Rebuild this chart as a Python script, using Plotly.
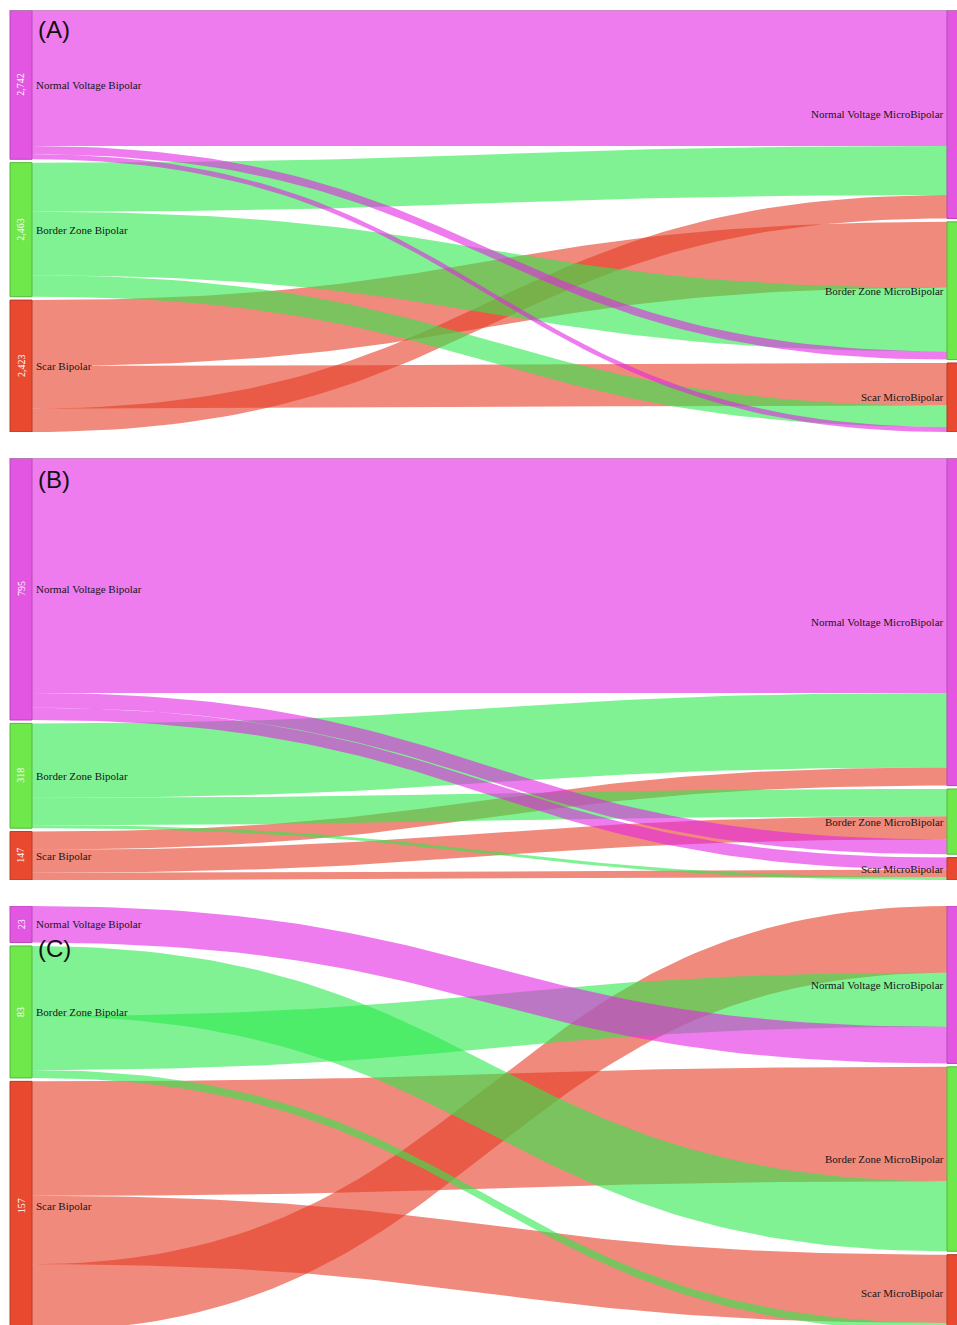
import numpy as np
import plotly.graph_objects as go

# ---- data -----------------------------------------------------------------
SOURCE_NAMES = ["Normal Voltage Bipolar", "Border Zone Bipolar", "Scar Bipolar"]
TARGET_NAMES = ["Normal Voltage MicroBipolar", "Border Zone MicroBipolar", "Scar MicroBipolar"]
PANEL_TAGS = ["(A)", "(B)", "(C)"]

# point counts flowing from each bipolar class (row) to each microbipolar class (column)
FLOWS_A = [[2500, 150, 92],
           [900, 1170, 393],
           [430, 1210, 783]]
FLOWS_B = [[713, 45, 37],
           [226, 83, 9],
           [55, 70, 22]]
FLOWS_C = [[23, 0, 0],
           [34, 44, 5],
           [42, 72, 43]]

# stacking order of ribbons leaving each source node (target indices, top to bottom)
OUT_ORDER_A = [[0, 1, 2], [0, 1, 2], [1, 2, 0]]
OUT_ORDER_B = [[0, 1, 2], [0, 1, 2], [0, 1, 2]]
OUT_ORDER_C = [[0, 1, 2], [1, 0, 2], [1, 2, 0]]
# stacking order of ribbons entering each target node (source indices, top to bottom)
IN_ORDER_A = [[0, 1, 2], [2, 1, 0], [2, 1, 0]]
IN_ORDER_B = [[0, 1, 2], [1, 2, 0], [0, 2, 1]]
IN_ORDER_C = [[2, 1, 0], [2, 1, 0], [2, 1, 0]]

# ---- style ----------------------------------------------------------------
NODE_COLORS = ["#e256e2", "#6ee84a", "#e8492f"]
NODE_EDGES = ["#b848b8", "#58b83c", "#b83a26"]
LINK_COLORS = ["rgba(226,37,228,0.6)", "rgba(43,233,77,0.6)", "rgba(230,60,37,0.6)"]
DRAW_ORDER = [2, 1, 0]          # ribbons painted by source: scar, border zone, normal

W, H = 957, 1325
PX_LEFT, PX_RIGHT = 10, 947     # left edges of the two node columns
SPAN = PX_RIGHT - PX_LEFT
NODE_W = 22 / SPAN              # node thickness in column units
PAD = 0.008                     # gap between stacked nodes, fraction of panel height

# panel placement in pixels: (top, bottom of full panel, visible bottom)
PANELS = [(10, 432, 432), (458, 880, 880), (906, 1331, 1325)]
TAG_Y = [29, 480, 948]

panels = [
    (FLOWS_A, OUT_ORDER_A, IN_ORDER_A),
    (FLOWS_B, OUT_ORDER_B, IN_ORDER_B),
    (FLOWS_C, OUT_ORDER_C, IN_ORDER_C),
]

fig = go.Figure()
annotations = []
shapes = []
layout_axes = {}

t = np.linspace(0, 1, 80)
x0, x1 = NODE_W, 1.0
xm = (x0 + x1) / 2
bx = (1 - t) ** 3 * x0 + 3 * (1 - t) ** 2 * t * xm + 3 * (1 - t) * t ** 2 * xm + t ** 3 * x1
by0 = (1 - t) ** 3 + 3 * (1 - t) ** 2 * t      # weight of the start y
by1 = 3 * (1 - t) * t ** 2 + t ** 3            # weight of the end y


def rect(xa, xb, ya, yb):
    return [xa, xb, xb, xa, xa], [ya, ya, yb, yb, ya]


label_font = dict(family="Liberation Serif", size=11, color="#161616")

for p, (flows, out_order, in_order) in enumerate(panels):
    ax = "" if p == 0 else str(p + 1)
    xref, yref = "x" + ax, "y" + ax
    top, bottom, vis_bottom = PANELS[p]
    full_h = bottom - top

    flows = np.array(flows, dtype=float)
    src_tot = flows.sum(axis=1)
    tgt_tot = flows.sum(axis=0)
    total = flows.sum()
    k = (1 - 2 * PAD) / total

    src_top = np.concatenate([[0], np.cumsum(src_tot)[:-1]]) * k + np.arange(3) * PAD
    tgt_top = np.concatenate([[0], np.cumsum(tgt_tot)[:-1]]) * k + np.arange(3) * PAD

    # ribbon end positions
    s_off = np.zeros((3, 3))
    for i in range(3):
        acc = src_top[i]
        for j in out_order[i]:
            s_off[i, j] = acc
            acc += flows[i, j] * k
    t_off = np.zeros((3, 3))
    for j in range(3):
        acc = tgt_top[j]
        for i in in_order[j]:
            t_off[i, j] = acc
            acc += flows[i, j] * k

    for i in DRAW_ORDER:
        for j in range(3):
            v = flows[i, j]
            if v <= 0:
                continue
            h = v * k
            ytop = by0 * s_off[i, j] + by1 * t_off[i, j]
            ybot = ytop + h
            xs = np.concatenate([bx, bx[::-1], bx[:1]])
            ys = np.concatenate([ytop, ybot[::-1], ytop[:1]])
            fig.add_trace(go.Scatter(
                x=xs, y=ys, xaxis=xref, yaxis=yref, mode="lines",
                fill="toself", fillcolor=LINK_COLORS[i], line=dict(width=0),
                hoverinfo="skip", showlegend=False))

    # nodes
    for col, tops, tots, names in ((0.0, src_top, src_tot, SOURCE_NAMES),
                                   (1.0, tgt_top, tgt_tot, TARGET_NAMES)):
        for n in range(3):
            ya, yb = tops[n], tops[n] + tots[n] * k
            rx, ry = rect(col, col + NODE_W, ya, yb)
            fig.add_trace(go.Scatter(
                x=rx, y=ry, xaxis=xref, yaxis=yref, mode="lines",
                fill="toself", fillcolor=NODE_COLORS[n],
                line=dict(color=NODE_EDGES[n], width=1),
                hoverinfo="skip", showlegend=False))
            yc = (ya + yb) / 2
            annotations.append(dict(
                x=col + NODE_W / 2, y=yc, xref=xref, yref=yref,
                text=f"{int(tots[n]):,}", textangle=-90, showarrow=False,
                font=dict(family="Liberation Serif", size=10, color="white"),
                xanchor="center", yanchor="middle"))
            if col == 0.0:
                annotations.append(dict(
                    x=NODE_W + 2 / SPAN, y=yc, xref=xref, yref=yref,
                    text=names[n], showarrow=False, xanchor="left", yanchor="middle",
                    font=label_font))
            else:
                annotations.append(dict(
                    x=1.0 - 1 / SPAN, y=yc, xref=xref, yref=yref,
                    text=names[n], showarrow=False, xanchor="right", yanchor="middle",
                    font=label_font))

    # panel tag
    annotations.append(dict(
        x=26 / SPAN, y=1 - TAG_Y[p] / H, xref=xref, yref="paper",
        text=PANEL_TAGS[p], showarrow=False, xanchor="left", yanchor="middle",
        font=dict(family="Liberation Sans", size=24, color="#111111")))

    if p < 2:
        shapes.append(dict(type="line", xref=xref, yref=yref, x0=0, x1=1 + NODE_W,
                           y0=0, y1=0, line=dict(color="#a0a0a0", width=1)))

    dom = [1 - vis_bottom / H, 1 - top / H]
    vis_frac = (vis_bottom - top) / full_h
    layout_axes["xaxis" + ax] = dict(domain=[0, 1], range=[-PX_LEFT / SPAN, (W - PX_LEFT) / SPAN],
                                     visible=False, fixedrange=True, anchor=yref)
    layout_axes["yaxis" + ax] = dict(domain=dom, range=[vis_frac, 0], visible=False,
                                     fixedrange=True, anchor=xref)

fig.update_layout(
    width=W, height=H, margin=dict(l=0, r=0, t=0, b=0),
    paper_bgcolor="white", plot_bgcolor="white", showlegend=False,
    annotations=annotations, shapes=shapes, **layout_axes)

fig.write_html("out.html")
